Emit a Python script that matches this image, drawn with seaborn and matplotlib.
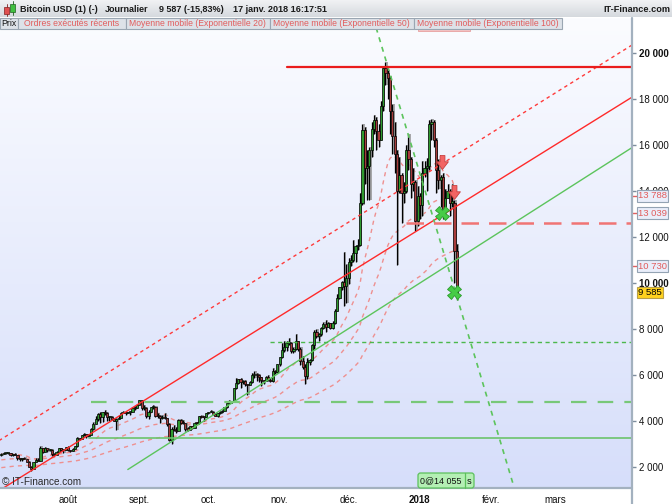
import matplotlib
matplotlib.use("Agg")
import matplotlib.pyplot as plt
import matplotlib.dates as mdates
from matplotlib.patches import Rectangle, FancyBboxPatch
from matplotlib.lines import Line2D
from matplotlib.transforms import Affine2D
from matplotlib.colors import LinearSegmentedColormap
import seaborn as sns
import numpy as np
import pandas as pd

# daily candles from 3 Jul 2017 to 17 Jan 2018
first_day = "2017-07-03"
first_open = 2507
closes = [
    # juillet
    2565, 2601, 2601, 2608, 2518, 2571, 2519, 2372, 2337, 2398, 2357, 2233, 1998, 1929, 2228,
    2318, 2273, 2817, 2667, 2810, 2730, 2754, 2576, 2529, 2671, 2809, 2726, 2757, 2875,
    # août
    2718, 2710, 2804, 2895, 3252, 3213, 3378, 3419, 3342, 3381, 3650, 3884, 4073, 4325, 4181,
    4376, 4331, 4160, 4193, 4087, 4001, 4100, 4151, 4334, 4371, 4352, 4382, 4382, 4579, 4565, 4703,
    # sept.
    4892, 4578, 4582, 4236, 4376, 4597, 4599, 4228, 4226, 4122, 4161, 4130, 3882, 3155, 3637,
    3625, 3582, 4065, 3924, 3905, 3631, 3630, 3792, 3682, 3926, 3892, 4200, 4174, 4163, 4338,
    # oct.
    4403, 4409, 4317, 4229, 4328, 4370, 4426, 4611, 4773, 4789, 4848, 5430, 5649, 5825, 5687,
    5754, 5595, 5572, 5699, 5983, 6011, 5994, 5904, 5780, 5753, 5905, 5780, 5753, 6153, 6130, 6468,
    # nov.
    6767, 7078, 7207, 7379, 7407, 7022, 7144, 7459, 7143, 6618, 6357, 5950, 6559, 6635, 7315,
    7871, 7708, 7790, 8036, 8200, 8071, 8253, 8038, 8253, 8791, 9330, 9818, 10058, 9888, 10233,
    # déc.
    10900, 11000, 11300, 11600, 11650, 13500, 16650, 15000, 15100, 15800, 16700, 17100, 16600,
    16200, 17700, 19350, 19150, 18900, 17500, 16400, 15600, 14000, 14700, 13900, 14000, 15800,
    15400, 14300, 14400, 12700, 13800,
    # janv.
    13400, 14800, 15000, 15100, 16900, 17000, 16200, 14900, 14500, 14600, 13200, 13700, 14000,
    13500, 13500, 11390, 9587,
]
highs = [
    2595, 2660, 2625, 2620, 2615, 2575, 2605, 2537, 2410, 2410, 2425, 2360, 2240, 2060, 2230,
    2385, 2395, 2900, 2830, 2860, 2815, 2780, 2770, 2610, 2690, 2825, 2810, 2760, 2880,
    2930, 2760, 2810, 2900, 3290, 3275, 3400, 3480, 3425, 3450, 3680, 3950, 4210, 4340, 4400,
    4390, 4480, 4370, 4210, 4200, 4110, 4130, 4250, 4370, 4450, 4380, 4400, 4400, 4620, 4640, 4740,
    4920, 4910, 4715, 4590, 4470, 4620, 4680, 4640, 4330, 4240, 4270, 4340, 4130, 3920, 3750,
    3810, 3750, 4080, 4100, 4050, 3920, 3760, 3800, 3790, 3950, 3970, 4210, 4250, 4180, 4360,
    4410, 4470, 4430, 4350, 4360, 4420, 4460, 4620, 4790, 4920, 4880, 5450, 5860, 5840, 5850,
    5790, 5770, 5600, 5740, 6070, 6180, 6080, 6050, 5900, 5790, 5970, 6000, 5860, 6300, 6200, 6470,
    6770, 7370, 7460, 7490, 7600, 7420, 7210, 7780, 7450, 7200, 6830, 6470, 6730, 6700, 7330,
    7970, 8000, 7840, 8100, 8300, 8370, 8300, 8260, 8330, 8860, 9520, 9820, 10100, 11350, 10830,
    11100, 11200, 11850, 11650, 11900, 13900, 16900, 16800, 15800, 15900, 17000, 17300, 17200,
    16900, 17900, 19450, 19600, 19250, 19000, 17800, 17000, 15800, 15500, 14800, 14400, 16000,
    16500, 15500, 15000, 14500, 14200,
    13900, 15300, 15300, 15450, 17100, 17150, 17100, 16300, 15400, 14700, 14800, 14100, 14300,
    14100, 14300, 13600, 11700,
]
lows = [
    2480, 2550, 2560, 2580, 2490, 2490, 2515, 2321, 2270, 2250, 2330, 2200, 1990, 1840, 1930,
    2220, 2260, 2270, 2620, 2665, 2650, 2710, 2480, 2460, 2520, 2660, 2690, 2620, 2720,
    2700, 2660, 2700, 2790, 2890, 3160, 3200, 3340, 3270, 3330, 3380, 3630, 3850, 3990, 3900,
    3950, 4250, 3980, 3980, 4050, 3990, 3600, 4070, 4110, 4330, 4280, 4340, 4240, 4370, 4490, 4560,
    4690, 4470, 4480, 4110, 4070, 4370, 4530, 4170, 4140, 3920, 4100, 4070, 3790, 3150, 2980,
    3550, 3500, 3580, 3860, 3870, 3580, 3560, 3600, 3660, 3680, 3880, 3890, 4140, 4010, 4160,
    4290, 4380, 4260, 4210, 4170, 4320, 4330, 4420, 4560, 4740, 4770, 4840, 5380, 5590, 5450,
    5600, 5520, 5110, 5570, 5660, 5880, 5750, 5700, 5530, 5600, 5750, 5720, 5680, 5690, 6030, 6100,
    6380, 6760, 7000, 7030, 7320, 6960, 6960, 7080, 7060, 6440, 6260, 5620, 5840, 6420, 6630,
    7120, 7600, 7500, 7690, 7980, 7890, 8070, 8000, 8000, 8230, 8780, 9320, 9700, 9010, 9110,
    9950, 10720, 10900, 10900, 11450, 11600, 13400, 14300, 13600, 13600, 15500, 16500, 15800,
    15900, 16200, 17500, 18600, 18000, 16500, 15600, 14800, 10800, 13900, 12600, 13500, 13900,
    14900, 13700, 14000, 12250, 12500,
    12800, 12900, 14600, 14000, 14900, 16200, 15900, 13900, 14100, 13300, 12800, 12900, 13700,
    12900, 13300, 10000, 9250,
]

# exponential moving averages: periods, level at the left edge, last value shown on the axis
ema_periods = [20, 50, 100]
ema_seed = [2560, 2300, 1960]
ema_last = [13788, 13039, 10730]
last_price = 9585

# drawn trend lines: two anchor points each
support_dates, support_prices = ["2017-07-16 00:00", "2017-12-01 00:00"], [1840, 10420]
channel_dates, channel_prices = ["2017-07-03 00:00", "2017-12-01 00:00"], [3210, 12647]
green_dates, green_prices = ["2017-08-27 00:00", "2017-12-01 00:00"], [1890, 8020]
drop_dates, drop_prices = ["2017-12-15 00:00", "2018-02-10 00:00"], [20420, 1430]

# horizontal levels (start date, price)
level_starts = ["2017-11-04", "2017-12-26", "2017-10-28", "2017-08-11", "2017-08-10"]
level_prices = [19390, 12600, 7430, 4830, 3260]

# recent orders
sell_dates, sell_prices = ["2018-01-10 12:00", "2018-01-16 00:00"], [15274, 13970]
buy_dates, buy_prices = ["2018-01-10 12:00", "2018-01-16 00:00"], [13030, 9620]

month_ticks = ["2017-08-01", "2017-09-01", "2017-10-01", "2017-11-01",
               "2017-12-01", "2018-01-01", "2018-02-01", "2018-03-01"]
month_labels = ["août", "sept.", "oct.", "nov.", "déc.", "2018", "févr.", "mars"]
price_ticks = [2000, 4000, 6000, 8000, 10000, 12000, 14000, 16000, 18000, 20000]

legend_items = ["Prix", "Ordres exécutés récents", "Moyenne mobile (Exponentielle 20)",
                "Moyenne mobile (Exponentielle 50)", "Moyenne mobile (Exponentielle 100)"]

sns.set_style("white")
plt.rcParams["font.family"] = ["Liberation Sans", "DejaVu Sans"]

RED_TXT = "#e25c5c"
AXIS_C = "#a3b1bf"

fig = plt.figure(figsize=(6.72, 5.04), dpi=100)
fig.patch.set_facecolor("white")
# pixel coordinates of the picture, y pointing down
pix = Affine2D().scale(1 / 672, -1 / 504).translate(0, 1) + fig.transFigure

ax_pos = [0, 16 / 504, 632 / 672, 470 / 504]
bg = fig.add_axes(ax_pos, zorder=0)
bg_cmap = LinearSegmentedColormap.from_list("bg", ["#fbfcff", "#d6defa"])
bg.imshow(np.linspace(0, 1, 256).reshape(-1, 1), aspect="auto", cmap=bg_cmap, extent=[0, 1, 0, 1])
bg.axis("off")

ax = fig.add_axes(ax_pos, zorder=1)
ax.patch.set_alpha(0)

dates = pd.date_range(first_day, periods=len(closes), freq="D")
c = np.array(closes, dtype=float)
o = np.concatenate([[first_open], c[:-1]])
h = np.maximum(np.array(highs, dtype=float), np.maximum(o, c))
l = np.minimum(np.array(lows, dtype=float), np.minimum(o, c))
up = c >= o
body_lo = np.minimum(o, c)
body_h = np.maximum(np.abs(c - o), 45)

# moving averages
for period, seed in zip(ema_periods, ema_seed):
    alpha = 2 / (period + 1)
    vals, e = [], seed
    for v in closes:
        e = e + alpha * (v - e)
        vals.append(e)
    sns.lineplot(x=dates, y=vals, ax=ax, color="#ee9090", lw=1.0,
                 linestyle=(0, (3, 3)), zorder=2, legend=False)

# candles with their grey shadow
shift = pd.Timedelta(hours=13)
ax.vlines(dates + shift, l, h, color="#8c8c8c", lw=1.4, alpha=0.75, zorder=2.5)
ax.bar(dates + shift, body_h, bottom=body_lo, width=0.9, color="#8c8c8c", alpha=0.6, lw=0, zorder=2.5)
ax.vlines(dates, l, h, color="black", lw=0.9, zorder=3)
ax.bar(dates, body_h, bottom=body_lo, width=0.95,
       color=np.where(up, "#2f9a2f", "#a83c3c"), edgecolor="black", lw=0.5, zorder=4)

xlim = (pd.Timestamp("2017-07-02 10:20"), pd.Timestamp("2018-04-03 05:00"))
far_end = pd.Timestamp("2018-06-01")


def line_points(d, p, start=None):
    x = mdates.date2num(pd.to_datetime(d, format="%Y-%m-%d %H:%M"))
    slope = (p[1] - p[0]) / (x[1] - x[0])
    xs = mdates.date2num(pd.Timestamp(start)) if start is not None else x[0]
    xe = mdates.date2num(far_end)
    return [xs, xe], [p[0] + slope * (xs - x[0]), p[0] + slope * (xe - x[0])]


x0 = "2017-06-01"
xs, ys = line_points(support_dates, support_prices, x0)
ax.plot(xs, ys, color="#ff2a2a", lw=1.0, zorder=5)
xs, ys = line_points(channel_dates, channel_prices, x0)
ax.plot(xs, ys, color="#ff3a3a", lw=1.0, linestyle=(0, (2.5, 2.5)), zorder=5)
xs, ys = line_points(green_dates, green_prices)
ax.plot(xs, ys, color="#5cc45c", lw=1.0, zorder=5)
xs, ys = line_points(drop_dates, drop_prices, "2017-12-01")
ax.plot(xs, ys, color="#5cc45c", lw=1.2, linestyle=(0, (3, 3)), zorder=5)

level_styles = [
    dict(color="#ea1c1c", lw=1.6, linestyle="-"),
    dict(color="#f07474", lw=1.8, linestyle=(0, (7, 4))),
    dict(color="#4cb84c", lw=1.0, linestyle=(0, (3, 2.5))),
    dict(color="#78c878", lw=1.6, linestyle=(0, (7, 5))),
    dict(color="#6cc46c", lw=1.2, linestyle="-"),
]
for start, price, style in zip(level_starts, level_prices, level_styles):
    ax.plot([pd.Timestamp(start), far_end], [price, price], zorder=5, **style)

arrow = [(-0.35, 1), (0.35, 1), (0.35, 0.1), (0.85, 0.1), (0, -1), (-0.85, 0.1), (-0.35, 0.1), (-0.35, 1)]
ax.plot(pd.to_datetime(sell_dates, format="%Y-%m-%d %H:%M"), sell_prices, linestyle="none",
        marker=arrow, markersize=10, color="#f26464", markeredgecolor="#c84040",
        markeredgewidth=0.6, zorder=7)
ax.plot(pd.to_datetime(buy_dates, format="%Y-%m-%d %H:%M"), buy_prices, linestyle="none",
        marker="X", markersize=10, color="#46cc46", markeredgecolor="#2c9c2c",
        markeredgewidth=0.6, zorder=7)

ax.set_xlim(*xlim)
ax.set_ylim(1087, 21522)
for s in ax.spines.values():
    s.set_visible(False)

ax.yaxis.tick_right()
ax.set_yticks(price_ticks, labels=[f"{v:,}".replace(",", " ") for v in price_ticks])
for t, v in zip(ax.get_yticklabels(), price_ticks):
    if v in (10000, 20000):
        t.set_fontweight("bold")
ax.set_xticks(pd.to_datetime(month_ticks), labels=month_labels)
for t, lab in zip(ax.get_xticklabels(), month_labels):
    if lab == "2018":
        t.set_fontweight("bold")
ax.tick_params(axis="y", length=3, width=1, color="#7d8d9d", pad=2, labelsize=7, labelcolor="#111111")
ax.tick_params(axis="x", length=3, width=1, color="#7d8d9d", pad=2, labelsize=7, labelcolor="#111111")
ax.set_xlabel("")
ax.set_ylabel("")

# axis frame lines
fig.add_artist(Line2D([632, 632], [18, 504], transform=pix, color=AXIS_C, lw=1.6))
fig.add_artist(Line2D([0, 632], [488, 488], transform=pix, color=AXIS_C, lw=1.6))

# value boxes on the price axis
yax = ax.get_yaxis_transform()
for v in ema_last:
    ax.plot([1.0, 1.0 + 5 / 632], [v, v], transform=yax, color="#e06060", lw=1, clip_on=False, zorder=8)
    ax.text(1.0 + 6 / 632, v, f"{v:,}".replace(",", " "), transform=yax, fontsize=6.8, color=RED_TXT,
            va="center", ha="left", zorder=9,
            bbox=dict(boxstyle="square,pad=0.15", fc="#e9eefa", ec="#93a3b3", lw=0.8))
ax.text(1.0 + 6 / 632, last_price, f"{last_price:,}".replace(",", " "), transform=yax, fontsize=6.8,
        color="black", va="center", ha="left", zorder=9,
        bbox=dict(boxstyle="square,pad=0.15", fc="#ffd21e", ec="#b8a048", lw=0.8))

# title bar
top = fig.add_axes([0, 1 - 17 / 504, 1, 17 / 504], zorder=2)
top.imshow(np.linspace(0, 1, 64).reshape(-1, 1), aspect="auto", extent=[0, 1, 0, 1],
           cmap=LinearSegmentedColormap.from_list("bar", ["#f1f2f4", "#d5d9de"]))
top.axis("off")
fig.add_artist(Rectangle((4, 7), 5, 7, transform=pix, fc="#e05050", ec="#802020", lw=0.5, zorder=3))
fig.add_artist(Line2D([6.5, 6.5], [4, 16], transform=pix, color="#802020", lw=0.6, zorder=2.9))
fig.add_artist(Rectangle((10, 4), 5, 8, transform=pix, fc="#40c040", ec="#206020", lw=0.5, zorder=3))
fig.add_artist(Line2D([12.5, 12.5], [1, 15], transform=pix, color="#206020", lw=0.6, zorder=2.9))
for x, s in [(20, "Bitcoin USD (1) (-)"), (105, "Journalier"), (159, "9 587 (-15,83%)"),
             (233, "17 janv. 2018 16:17:51")]:
    fig.text(x, 9, s, transform=pix, fontsize=6.5, fontweight="bold", color="#1a1a1a", va="center", zorder=4)
fig.text(670, 9, "IT-Finance.com", transform=pix, fontsize=6.6, fontweight="bold", color="#1a1a1a",
         va="center", ha="right", zorder=4)

# legend row
fig.add_artist(Rectangle((418, 27), 52, 4, transform=pix, fc="#f5c4c4", ec="#e8a0a0", lw=0.6, zorder=2))
edges = [0, 17.5, 125.5, 269.5, 413.5, 562]
for i, item in enumerate(legend_items):
    fig.add_artist(Rectangle((edges[i], 18), edges[i + 1] - edges[i], 10.5, transform=pix,
                             fc="#dde2e8", ec="#9aa6b2", lw=0.8, zorder=3))
    fig.text((edges[i] + edges[i + 1]) / 2, 23.5, item, transform=pix, fontsize=6.2,
             color="#111111" if i == 0 else RED_TXT, ha="center", va="center", zorder=4)

# order counter box
fig.add_artist(FancyBboxPatch((418, 473), 56, 15, transform=pix, boxstyle="round,pad=0,rounding_size=2.5",
                              fc="#b4efb4", ec="#5cc05c", lw=0.9, zorder=3))
fig.add_artist(Line2D([465, 465], [473, 488], transform=pix, color="#5cc05c", lw=0.9, zorder=3.5))
fig.text(420.5, 481, "0@14 055", transform=pix, fontsize=6.4, color="#111111", va="center", zorder=4)
fig.text(467, 481, "s", transform=pix, fontsize=6.6, color="#111111", va="center", zorder=4)

fig.text(2, 482, "© IT-Finance.com", transform=pix, fontsize=7.2, color="#2a2a2a", va="center", zorder=4)

fig.savefig("out.png", dpi=100)
